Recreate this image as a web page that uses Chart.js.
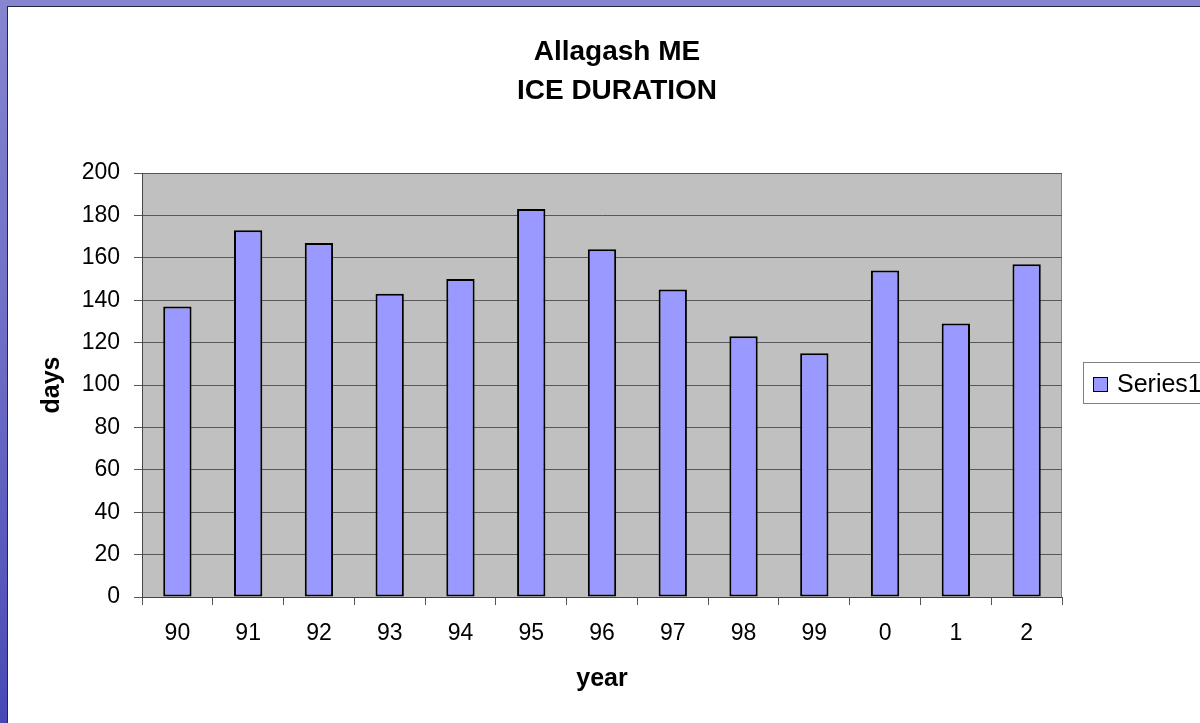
<!DOCTYPE html>
<html>
<head>
<meta charset="utf-8">
<script src="https://cdn.jsdelivr.net/npm/chart.js@4"></script>
<style>
html, body { margin: 0; padding: 0; }
body {
    width: 1200px; height: 723px; overflow: hidden; position: relative;
    background: linear-gradient(to bottom, #8585d0 0%, #6c6cc6 50%, #4949b6 100%);
}
#sheet {
    position: absolute; left: 7px; top: 6px; width: 1200px; height: 730px;
    background: #fff; border-left: 1px solid #262640; border-top: 1px solid #262640;
}
#chart_box { position: absolute; left: 0; top: 0; width: 1200px; height: 723px; }
</style>
</head>
<body>
<div id="sheet"></div>
<div id="chart_box"><canvas id="ice_chart"></canvas></div>
<script>
// data
const years = ['90', '91', '92', '93', '94', '95', '96', '97', '98', '99', '0', '1', '2'];
const ice_days = [137, 173, 167, 143, 150, 183, 164, 145, 123, 115, 154, 129, 157];
const series_name = 'Series1';
const chart_title = ['Allagash ME', 'ICE DURATION'];

const font_name = '"Liberation Sans", Arial, sans-serif';

// gray plot area like the old excel chart
const plot_background = {
    id: 'plot_background',
    beforeDraw(chart) {
        const a = chart.chartArea;
        const ctx = chart.ctx;
        ctx.save();
        ctx.fillStyle = '#c0c0c0';
        ctx.fillRect(a.left, a.top, a.right - a.left, a.bottom - a.top);
        ctx.strokeStyle = '#808080';
        ctx.lineWidth = 1;
        ctx.strokeRect(a.left + 0.5, a.top + 0.5, a.right - a.left - 1, a.bottom - a.top);
        ctx.restore();
    }
};

// boxed legend on the right
const boxed_legend = {
    id: 'boxed_legend',
    afterDraw(chart) {
        const ctx = chart.ctx;
        const ds = chart.data.datasets[0];
        ctx.save();
        ctx.strokeStyle = '#808080';
        ctx.lineWidth = 1;
        ctx.fillStyle = '#fff';
        ctx.fillRect(1083.5, 362.5, 130, 41);
        ctx.strokeRect(1083.5, 362.5, 130, 41);
        ctx.fillStyle = ds.backgroundColor;
        ctx.fillRect(1093.5, 377.5, 14, 14);
        ctx.strokeStyle = '#000';
        ctx.strokeRect(1093.5, 377.5, 14, 14);
        ctx.fillStyle = '#000';
        ctx.font = '25px ' + font_name;
        ctx.textBaseline = 'middle';
        ctx.fillText(ds.label, 1117, 385);
        ctx.restore();
    }
};

var ice_ctx = document.getElementById('ice_chart').getContext('2d');
var ice_chart = new Chart(ice_ctx, {
    type: 'bar',
    data: {
        labels: years,
        datasets: [{
            label: series_name,
            data: ice_days,
            backgroundColor: '#9999ff',
            borderColor: '#000',
            borderWidth: 2,
            borderSkipped: false,
            categoryPercentage: 1.0,
            barPercentage: 0.4,
        }]
    },
    options: {
        responsive: true,
        maintainAspectRatio: false,
        animation: false,
        layout: {
            padding: { left: 34, right: 0, top: 0, bottom: 0 },
        },
        scales: {
            x: {
                afterFit: function (scale) { scale.height = 126; },
                grid: {
                    offset: true,
                    drawOnChartArea: false,
                    drawTicks: true,
                    tickLength: 8,
                    color: '#555',
                },
                border: { color: '#444', width: 1 },
                ticks: {
                    color: '#000',
                    padding: 15,
                    maxRotation: 0,
                    font: { family: font_name, size: 23 },
                },
                title: {
                    display: true,
                    text: 'year',
                    color: '#000',
                    font: { family: font_name, size: 25, weight: 'bold' },
                    padding: { top: 0, bottom: 29 },
                },
            },
            y: {
                min: 0,
                max: 200,
                afterFit: function (scale) { scale.width = 108; },
                grid: {
                    color: '#585858',
                    tickLength: 8,
                },
                border: { color: '#444', width: 1 },
                ticks: {
                    stepSize: 20,
                    color: '#000',
                    padding: 14,
                    font: { family: font_name, size: 23 },
                },
                title: {
                    display: true,
                    text: 'days',
                    color: '#000',
                    font: { family: font_name, size: 25, weight: 'bold' },
                    padding: { top: 3, bottom: 0 },
                },
            },
            // empty axis only to keep room for the legend
            legend_room: {
                type: 'linear',
                position: 'right',
                afterFit: function (scale) { scale.width = 138; },
                grid: { display: false },
                border: { display: false },
                ticks: { display: false },
            },
        },
        plugins: {
            legend: { display: false },
            tooltip: { enabled: false },
            title: {
                display: true,
                text: chart_title,
                color: '#000',
                font: { family: font_name, size: 28, weight: 'bold', lineHeight: 1.393 },
                padding: { top: 33, bottom: 62 },
            },
        },
    },
    plugins: [plot_background, boxed_legend],
});
</script>
</body>
</html>
